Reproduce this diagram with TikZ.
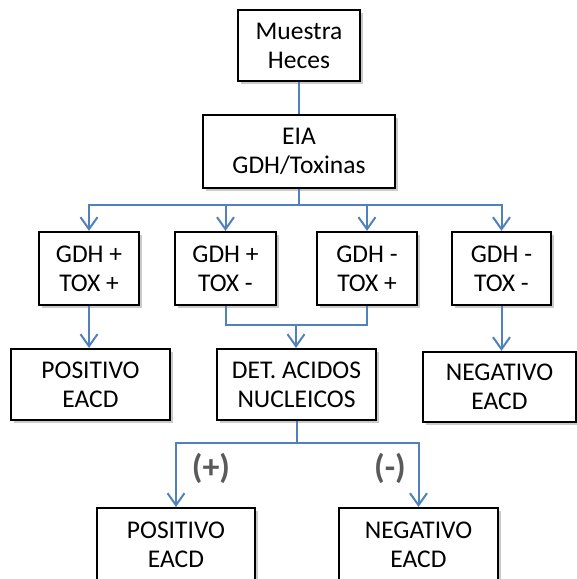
\documentclass[tikz,border=0pt]{standalone}
\usepackage{fontspec}
\setmainfont{Carlito}
\usetikzlibrary{arrows.meta,shadows}

\definecolor{linkblue}{RGB}{79,129,189}
\definecolor{signgray}{RGB}{90,90,90}

\tikzset{
  box/.style={draw=black, line width=2.2pt, fill=white, align=center,
    inner sep=0pt, font=\fontsize{25.5}{29}\selectfont,
    drop shadow={shadow xshift=3pt, shadow yshift=-3pt, opacity=0.35, fill=black!60}},
  link/.style={draw=linkblue, line width=2pt},
  arrow/.style={link, -{Straight Barb[length=12pt,width=17pt]}},
  sign/.style={text=signgray, font=\fontsize{34}{34}\selectfont\bfseries}
}

\begin{document}
\begin{tikzpicture}[x=1pt,y=-1pt]

    % Page frame (bottom boxes are cut off)
    \clip (0,0) rectangle (577,579);

    % Sample and first test
    \node[box, minimum width=122pt, minimum height=71pt] (muestra) at (299,45.5) {Muestra\\Heces};
    \node[box, minimum width=192pt, minimum height=73pt] (eia) at (299,151.5) {EIA\\GDH/Toxinas};

    % Results of the EIA
    \node[box, minimum width=100pt, minimum height=73pt] (g1) at (89,268.5) {GDH +\\TOX +};
    \node[box, minimum width=101pt, minimum height=73pt] (g2) at (225.5,268.5) {GDH +\\TOX -};
    \node[box, minimum width=100pt, minimum height=73pt] (g3) at (367,268.5) {GDH -\\TOX +};
    \node[box, minimum width=99pt, minimum height=73pt] (g4) at (501.5,268.5) {GDH -\\TOX -};

    % Third level
    \node[box, minimum width=159pt, minimum height=71pt] (pos1) at (90.5,384.5) {POSITIVO\\EACD};
    \node[box, minimum width=159pt, minimum height=71pt] (det) at (296.5,384.5) {DET. ACIDOS\\NUCLEICOS};
    \node[box, minimum width=153pt, minimum height=70pt] (neg1) at (499.5,387) {NEGATIVO\\EACD};

    % Final results
    \node[box, minimum width=158pt, minimum height=74pt] (pos2) at (176,545) {POSITIVO\\EACD};
    \node[box, minimum width=159pt, minimum height=74pt] (neg2) at (418.5,545) {NEGATIVO\\EACD};

    % Connectors
    \coordinate (split) at (299,205);
    \coordinate (merge) at (296,325);
    \coordinate (fork) at (296.5,443);

    \draw[link] (muestra) -- (eia);
    \draw[link] (eia) -- (split);
    \foreach \n in {g1,g2,g3,g4}
    \draw[arrow] (split) -| (\n);

    \draw[arrow] (g1) -- (g1 |- pos1.north);
    \draw[link] (g2) |- (merge);
    \draw[link] (g3) |- (merge);
    \draw[arrow] (merge) -- (merge |- det.north);
    \draw[arrow] (g4) -- (g4 |- neg1.north);

    \draw[link] (det) -- (fork);
    \draw[arrow] (fork) -| (pos2);
    \draw[arrow] (fork) -| (neg2);

    % Branch signs
    \node[sign] (plus) at (211,468) {(+)};
    \node[sign] (minus) at (390,468) {(-)};

\end{tikzpicture}
\end{document}
